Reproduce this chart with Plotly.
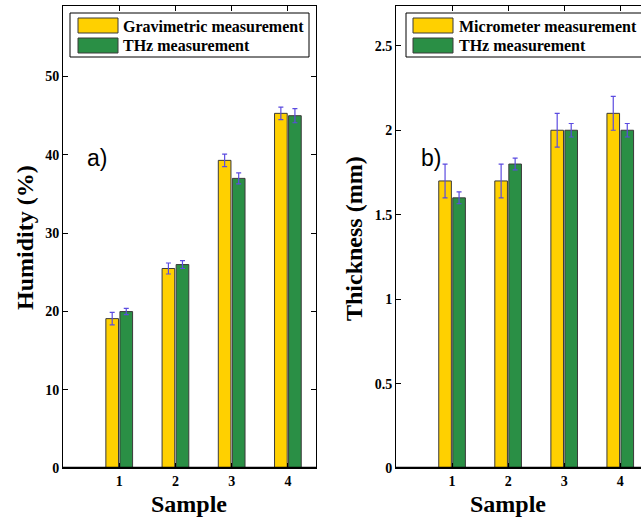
import plotly.graph_objects as go

samples = [1, 2, 3, 4]
tick_labels = ["1", "2", "3", "4"]

# Panel a) humidity (%)
hum_grav = [19.1, 25.5, 39.3, 45.3]
hum_grav_err = [0.8, 0.7, 0.8, 0.8]
hum_thz = [20.0, 26.0, 37.0, 45.0]
hum_thz_err = [0.4, 0.5, 0.7, 0.9]

# Panel b) thickness (mm)
thk_micro = [1.7, 1.7, 2.0, 2.1]
thk_micro_err = [0.1, 0.1, 0.1, 0.1]
thk_thz = [1.6, 1.8, 2.0, 2.0]
thk_thz_err = [0.035, 0.035, 0.04, 0.04]

legend_a = ["Gravimetric measurement", "THz measurement"]
legend_b = ["Micrometer measurement", "THz measurement"]

YELLOW = "#FFD000"
GREEN = "#2A8F45"
EDGE = "#3a3a3a"
ERRC = "#5B4BE0"
SERIF = "Liberation Serif"

W, H = 641, 517

def px_x(p):
    return p / W

def px_y(p):
    return 1 - p / H

fig = go.Figure()

def add_bars(vals, errs, color, xa, ya, name):
    fig.add_trace(go.Bar(
        x=samples, y=vals, name=name, xaxis=xa, yaxis=ya,
        marker=dict(color=color, line=dict(color=EDGE, width=1)),
        error_y=dict(type="data", array=errs, color=ERRC, thickness=1.2, width=2.5),
        showlegend=False,
    ))

add_bars(hum_grav, hum_grav_err, YELLOW, "x", "y", legend_a[0])
add_bars(hum_thz, hum_thz_err, GREEN, "x", "y", legend_a[1])
add_bars(thk_micro, thk_micro_err, YELLOW, "x2", "y2", legend_b[0])
add_bars(thk_thz, thk_thz_err, GREEN, "x2", "y2", legend_b[1])

tickfont = dict(family=SERIF, size=14, color="black", weight="bold")

xcommon = dict(
    tickmode="array", tickvals=samples, ticktext=tick_labels,
    ticks="inside", ticklen=5, tickcolor="black",
    showline=True, linecolor="black", linewidth=1, mirror="ticks",
    showgrid=False, zeroline=False, tickfont=tickfont, fixedrange=True,
)
ycommon = dict(
    ticks="inside", ticklen=5, tickcolor="black",
    showline=True, linecolor="black", linewidth=1,
    showgrid=False, zeroline=False, tickfont=tickfont, fixedrange=True,
)

left_dom = [px_x(63), px_x(316)]
right_dom = [px_x(396), 1.0]
y_dom = [px_y(468.3), px_y(6)]

fig.update_layout(
    width=W, height=H,
    margin=dict(l=0, r=0, t=0, b=0, autoexpand=False),
    paper_bgcolor="white", plot_bgcolor="white",
    barmode="group", bargap=0.5, bargroupgap=0.1,
    showlegend=False,
    xaxis=dict(domain=left_dom, range=[0, 4.5], anchor="y", **xcommon),
    yaxis=dict(domain=y_dom, range=[0, 59], anchor="x", mirror="ticks",
               tickvals=[0, 10, 20, 30, 40, 50], **ycommon),
    xaxis2=dict(domain=right_dom, range=[0, 4.37], anchor="y2", **xcommon),
    yaxis2=dict(domain=y_dom, range=[0, 2.735], anchor="x2", mirror=False,
                tickvals=[0, 0.5, 1, 1.5, 2, 2.5], ticktext=["0", "0.5", "1", "1.5", "2", "2.5"],
                **ycommon),
)

shapes = []
annotations = []

# thick baselines
for xr, yr in (("x", "y"), ("x2", "y2")):
    shapes.append(dict(type="line", xref=f"{xr} domain", yref=yr, x0=0, x1=1, y0=0, y1=0,
                       line=dict(color="black", width=3), layer="above"))

# manual legends
def legend(x0, x1, patch_x0, text_x, labels):
    shapes.append(dict(type="rect", xref="paper", yref="paper",
                       x0=px_x(x0), x1=px_x(x1), y0=px_y(57), y1=px_y(13),
                       line=dict(color="black", width=1), fillcolor="white", layer="above"))
    for (yt, yb), col, lab, yc in (((18, 33), YELLOW, labels[0], 26), ((38, 53), GREEN, labels[1], 45.5)):
        shapes.append(dict(type="rect", xref="paper", yref="paper",
                           x0=px_x(patch_x0), x1=px_x(patch_x0 + 40), y0=px_y(yb), y1=px_y(yt),
                           line=dict(color=EDGE, width=1), fillcolor=col, layer="above"))
        annotations.append(dict(text=lab, xref="paper", yref="paper", x=px_x(text_x), y=px_y(yc),
                                xanchor="left", yanchor="middle", showarrow=False,
                                font=dict(family=SERIF, size=16, color="black", weight="bold")))

legend(70, 309, 78, 121, legend_a)
legend(406, 700, 413, 457, legend_b)

# panel labels
annotations.append(dict(text="a)", xref="paper", yref="paper", x=px_x(97), y=px_y(158),
                        xanchor="center", yanchor="middle", showarrow=False,
                        font=dict(family="Liberation Sans", size=23, color="black")))
annotations.append(dict(text="b)", xref="paper", yref="paper", x=px_x(430.5), y=px_y(158),
                        xanchor="center", yanchor="middle", showarrow=False,
                        font=dict(family="Liberation Sans", size=23, color="black")))

# axis titles
title_font = dict(family=SERIF, size=24, color="black", weight="bold")
annotations.append(dict(text="Humidity (%)", xref="paper", yref="paper", x=px_x(25), y=px_y(238),
                        xanchor="center", yanchor="middle", textangle=-90, showarrow=False, font=title_font))
annotations.append(dict(text="Thickness (mm)", xref="paper", yref="paper", x=px_x(354), y=px_y(238),
                        xanchor="center", yanchor="middle", textangle=-90, showarrow=False, font=title_font))
annotations.append(dict(text="Sample", xref="paper", yref="paper", x=px_x(189), y=px_y(504),
                        xanchor="center", yanchor="middle", showarrow=False, font=title_font))
annotations.append(dict(text="Sample", xref="paper", yref="paper", x=px_x(508), y=px_y(504),
                        xanchor="center", yanchor="middle", showarrow=False, font=title_font))

fig.update_layout(shapes=shapes, annotations=annotations)

fig.write_html(
    "out.html",
    config={"displayModeBar": False},
    post_script="document.body.style.margin='0';document.body.style.overflow='hidden';",
)
